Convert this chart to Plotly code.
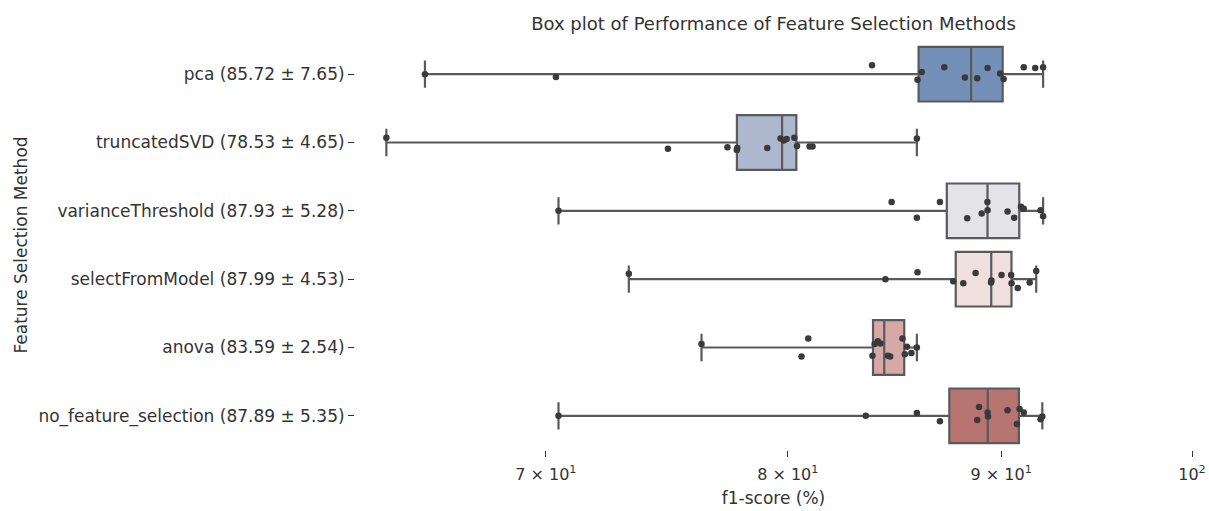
import numpy as np
import plotly.graph_objects as go

# ---- data ----
methods = [
    "pca (85.72 ± 7.65)",
    "truncatedSVD (78.53 ± 4.65)",
    "varianceThreshold (87.93 ± 5.28)",
    "selectFromModel (87.99 ± 4.53)",
    "anova (83.59 ± 2.54)",
    "no_feature_selection (87.89 ± 5.35)",
]

pca = [65.48, 70.39, 83.81, 85.94, 86.14, 87.22, 88.22, 88.82, 89.33, 89.95, 90.12, 91.13, 91.71, 92.11]
truncated_svd = [64.10, 74.88, 77.38, 77.78, 77.80, 79.10, 79.68, 79.82, 79.95, 80.29, 80.41, 80.97, 81.10, 85.91]
variance_threshold = [70.49, 84.72, 85.91, 87.01, 88.33, 89.04, 89.32, 89.33, 90.32, 90.65, 90.99, 91.13, 91.98, 92.11]
select_from_model = [73.28, 84.43, 85.94, 87.65, 88.14, 88.74, 89.50, 89.52, 90.02, 90.50, 90.52, 90.83, 91.43, 91.76]
anova = [76.28, 80.61, 80.91, 83.83, 83.93, 84.08, 84.20, 84.55, 84.65, 85.23, 85.34, 85.44, 85.65, 85.91]
no_feature_selection = [70.49, 83.52, 85.91, 87.01, 88.82, 88.91, 89.33, 89.35, 90.32, 90.79, 90.92, 91.13, 91.98, 92.07]

# strip-plot jitter (category units)
pca_jitter = [0.0, 0.04, -0.13, 0.08, -0.03, -0.10, 0.05, 0.06, -0.09, -0.01, 0.07, -0.10, -0.09, -0.10]
truncated_svd_jitter = [-0.07, 0.09, 0.07, 0.11, 0.08, 0.08, -0.06, -0.03, -0.05, -0.07, 0.05, 0.06, 0.06, -0.06]
variance_threshold_jitter = [0.0, -0.13, 0.10, -0.13, 0.11, 0.04, -0.13, -0.01, 0.01, 0.10, -0.06, -0.03, -0.01, 0.08]
select_from_model_jitter = [-0.08, 0.0, -0.10, 0.03, 0.06, -0.09, 0.05, 0.02, -0.06, -0.06, 0.06, 0.13, 0.05, -0.12]
anova_jitter = [-0.05, 0.13, -0.13, 0.12, -0.05, -0.09, -0.06, 0.12, 0.13, -0.13, 0.10, -0.01, 0.08, 0.0]
no_feature_selection_jitter = [0.0, 0.0, -0.04, 0.08, 0.06, -0.13, -0.05, 0.01, -0.08, 0.12, -0.10, -0.05, 0.05, 0.01]

series = [pca, truncated_svd, variance_threshold, select_from_model, anova, no_feature_selection]
jitters = [pca_jitter, truncated_svd_jitter, variance_threshold_jitter,
           select_from_model_jitter, anova_jitter, no_feature_selection_jitter]

box_colors = ["#7490b9", "#adb8ce", "#e3e3e8", "#efdfde", "#d6a8a7", "#b87471"]

x_tick_vals = [70, 80, 90, 100]
x_tick_text = ["7 × 10<sup>1</sup>", "8 × 10<sup>1</sup>", "9 × 10<sup>1</sup>", "10<sup>2</sup>"]

LINE = "#5a5a5a"
TEXT = "#333333"
FONT = "DejaVu Sans"

fig = go.Figure()

for i, (vals, col) in enumerate(zip(series, box_colors)):
    v = np.array(vals)
    q1, med, q3 = np.percentile(v, [25, 50, 75])
    fig.add_trace(go.Box(
        y=[i], q1=[q1], median=[med], q3=[q3],
        lowerfence=[v.min()], upperfence=[v.max()],
        orientation="h", width=0.8, whiskerwidth=0.5,
        fillcolor=col, line=dict(color=LINE, width=2.2),
        boxpoints=False, hoverinfo="skip", showlegend=False,
    ))

for i, (vals, jit) in enumerate(zip(series, jitters)):
    fig.add_trace(go.Scatter(
        x=vals, y=[i + j for j in jit], mode="markers",
        marker=dict(color="#3a3a3a", size=6.5),
        showlegend=False, hoverinfo="x",
    ))

fig.update_layout(
    width=1209, height=511,
    paper_bgcolor="white", plot_bgcolor="white",
    margin=dict(l=355, r=17, t=40, b=61, autoexpand=False),
    font=dict(family=FONT, size=17, color=TEXT),
    title=dict(text="Box plot of Performance of Feature Selection Methods",
               x=0.5, xref="paper", y=1 - 24 / 511, yref="container",
               xanchor="center", yanchor="middle",
               font=dict(family=FONT, size=18, color=TEXT)),
)

fig.update_xaxes(
    type="log", range=[np.log10(63.0), 2.0], automargin=False,
    tickvals=x_tick_vals, ticktext=x_tick_text,
    ticks="outside", ticklen=6, tickcolor=TEXT, tickwidth=1,
    ticklabelstandoff=4,
    showgrid=False, zeroline=False, showline=False,
    tickfont=dict(size=16),
    title=dict(text="f1-score (%)", font=dict(size=17), standoff=8),
)

fig.update_yaxes(
    range=[5.5, -0.5], automargin=False,
    tickvals=list(range(len(methods))), ticktext=methods,
    ticks="outside", ticklen=6, tickcolor=TEXT, tickwidth=1,
    showgrid=False, zeroline=False, showline=False,
    tickfont=dict(size=17),
    title=dict(text="Feature Selection Method", font=dict(size=17), standoff=6),
)

fig.write_html("out.html", config={"displayModeBar": False},
               post_script="document.body.style.margin='0px';")
